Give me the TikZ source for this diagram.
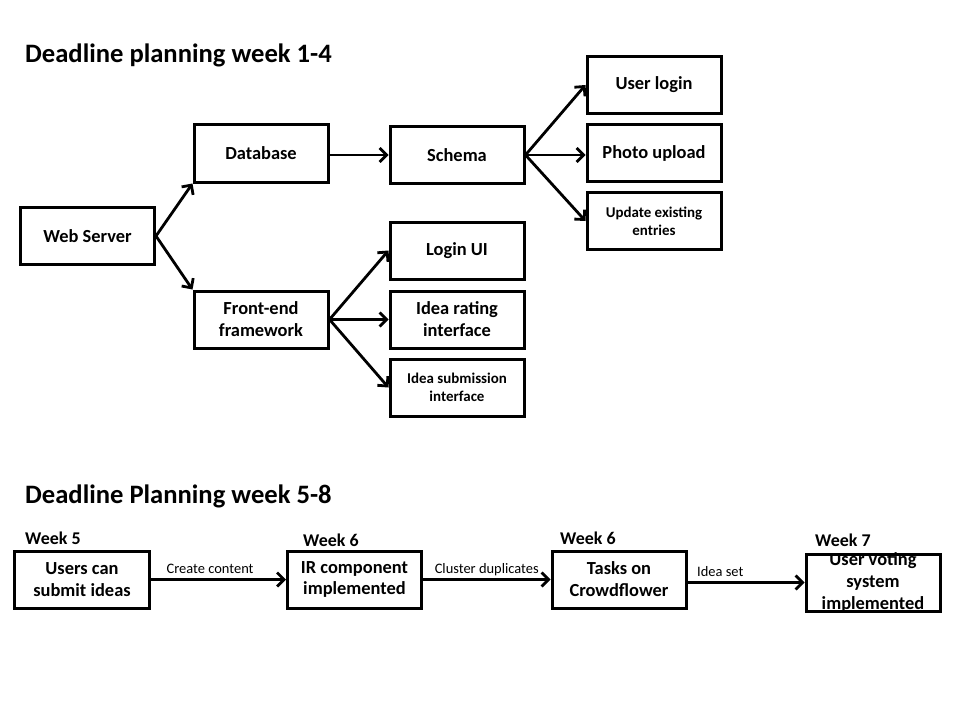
\documentclass[tikz,border=0pt]{standalone}
\usepackage{fontspec}
\setmainfont{Carlito}
\usetikzlibrary{arrows.meta}
\begin{document}
\begin{tikzpicture}[x=1bp,y=-1bp,
    box/.style={draw,line width=3bp,minimum width=134bp,minimum height=57bp,inner sep=0pt,align=center,font=\bfseries\fontsize{18.5}{22}\selectfont},
    small/.style={font=\bfseries\fontsize{15}{18}\selectfont},
    boxtext/.style={inner sep=0pt,align=center,font=\bfseries\fontsize{18.5}{22.5}\selectfont},
    lbl/.style={inner sep=0pt,anchor=base,yshift=6bp,font=\fontsize{14.5}{17}\selectfont},
    ttl/.style={anchor=base west,inner sep=0pt,font=\bfseries\fontsize{26.7}{30}\selectfont},
    wk/.style={anchor=base west,inner sep=0pt,font=\bfseries\fontsize{18}{22}\selectfont},
    arr/.style={-{Straight Barb[length=7bp,width=14bp]},line width=2.8bp}]
  \useasboundingbox (0,0) rectangle (960,720);
  % week 1-4
  \node[ttl] (t1) at (25,63) {Deadline planning week 1-4};
  \node[box] (ws) at (87.5,236) {Web Server};
  \node[box] (db) at (261,153.5) {Database};
  \node[box] (fe) at (261,319.5) {Front-end\\framework};
  \node[box] (sc) at (457,155) {Schema};
  \node[box] (lu) at (457,250.5) {Login UI};
  \node[box] (ir) at (457,319.5) {Idea rating\\interface};
  \node[box,small] (is) at (457,387.5) {Idea submission\\interface};
  \node[box] (ul) at (654,85) {User login};
  \node[box] (pu) at (654,153) {Photo upload};
  \node[box,small] (ue) at (654,221) {Update existing\\entries};
  \draw[arr] (ws.east) -- (db.south west);
  \draw[arr] (ws.east) -- (fe.north west);
  \draw[arr] (db.east |- sc.west) -- (sc.west);
  \draw[arr] (sc.east) -- (ul.west);
  \draw[arr] (sc.east) -- (pu.west |- sc.east);
  \draw[arr] (sc.east) -- (ue.west);
  \foreach \v in {lu,ir,is} {\draw[arr] (fe.east) -- (\v.west);}
  % week 5-8
  \node[ttl] (t2) at (25,503) {Deadline Planning week 5-8};
  \node[wk] (w5) at (25,544) {Week 5};
  \node[wk] (w6a) at (303,546) {Week 6};
  \node[wk] (w6b) at (560,544) {Week 6};
  \node[wk] (w7) at (815,546) {Week 7};
  \node[box] (b1) at (82,579.5) {Users can\\submit ideas};
  \node[box] (b2) at (354.5,579.5) {IR component\\implemented};
  \node[box] (b3) at (619,579.5) {Tasks on\\Crowdflower};
  \node[box] (b4) at (873,582.5) {};
  \node[boxtext] (b4t) at (b4.center) {User voting\\system\\implemented};
  \draw[arr] (b1.east) -- node[lbl,pos=0.44] {Create content} (b2.west);
  \draw[arr] (b2.east) -- node[lbl] {Cluster duplicates} (b3.west);
  \draw[arr] (b3.east |- b4.west) -- node[lbl,pos=0.28] {Idea set} (b4.west);
\end{tikzpicture}
\end{document}
